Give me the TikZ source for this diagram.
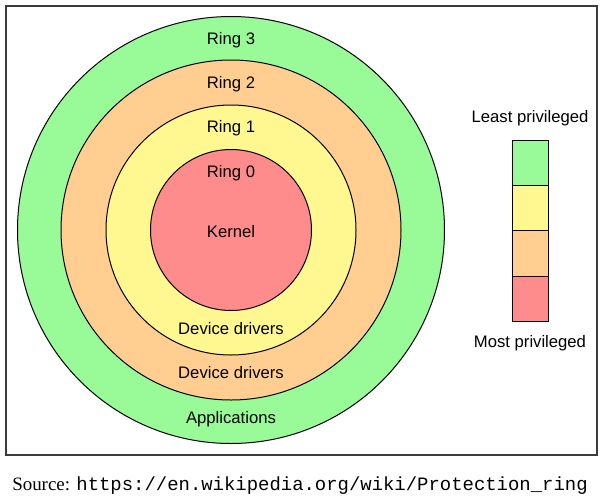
\documentclass[tikz,border=0pt]{standalone}
\usepackage{fontspec}
\setmainfont{Liberation Serif}
\setsansfont{Liberation Sans}
\setmonofont{Liberation Mono}
\definecolor{rgreen}{RGB}{152,251,152}
\definecolor{rorange}{RGB}{255,206,144}
\definecolor{ryellow}{RGB}{255,247,143}
\definecolor{rred}{RGB}{255,140,140}
\definecolor{framegray}{RGB}{60,60,60}
\begin{document}
\begin{tikzpicture}[x=0.75pt,y=-0.75pt,
  ring/.style={draw=black,line width=0.75pt},
  lbl/.style={font=\sffamily\fontsize{12.5}{14}\selectfont,inner sep=0pt},
  legbox/.style={draw=black,line width=0.75pt,minimum width=36*0.75pt,minimum height=45.25*0.75pt,inner sep=0pt,outer sep=0pt}]
\useasboundingbox (0,0) rectangle (603,500);
\node[draw=framegray,line width=0.9pt,minimum width=591*0.75pt,minimum height=449*0.75pt,inner sep=0pt] (frame) at (301.5,230.5) {};
\coordinate (c) at (231,230);
\fill[rgreen] (c) circle[radius=213.5];
\draw[ring] (c) circle[radius=213.5];
\fill[rorange] (c) circle[radius=170];
\draw[ring] (c) circle[radius=170];
\fill[ryellow] (c) circle[radius=125];
\draw[ring] (c) circle[radius=125];
\fill[rred] (c) circle[radius=80.5];
\draw[ring] (c) circle[radius=80.5];
\node[lbl] (r3) at (231,40) {Ring 3};
\node[lbl] (r2) at (231,84) {Ring 2};
\node[lbl] (r1) at (231,128) {Ring 1};
\node[lbl] (r0) at (231,173) {Ring 0};
\node[lbl] (kern) at (231,232) {Kernel};
\node[lbl] (dd1) at (231,329) {Device drivers};
\node[lbl] (dd2) at (231,373) {Device drivers};
\node[lbl] (app) at (231,419) {Applications};
\node[legbox,fill=rgreen] (b3) at (530,163) {};
\node[legbox,fill=ryellow,anchor=north] (b1) at (b3.south) {};
\node[legbox,fill=rorange,anchor=north] (b2) at (b1.south) {};
\node[legbox,fill=rred,anchor=north] (b0) at (b2.south) {};
\node[lbl] (least) at (530,118) {Least privileged};
\node[lbl] (most) at (530,343) {Most privileged};
\node[anchor=base west,inner sep=0pt,font=\fontsize{14.2}{16}\selectfont] (src) at (12,490) {Source: \texttt{https://en.wikipedia.org/wiki/Protection\_ring}};
\end{tikzpicture}
\end{document}
